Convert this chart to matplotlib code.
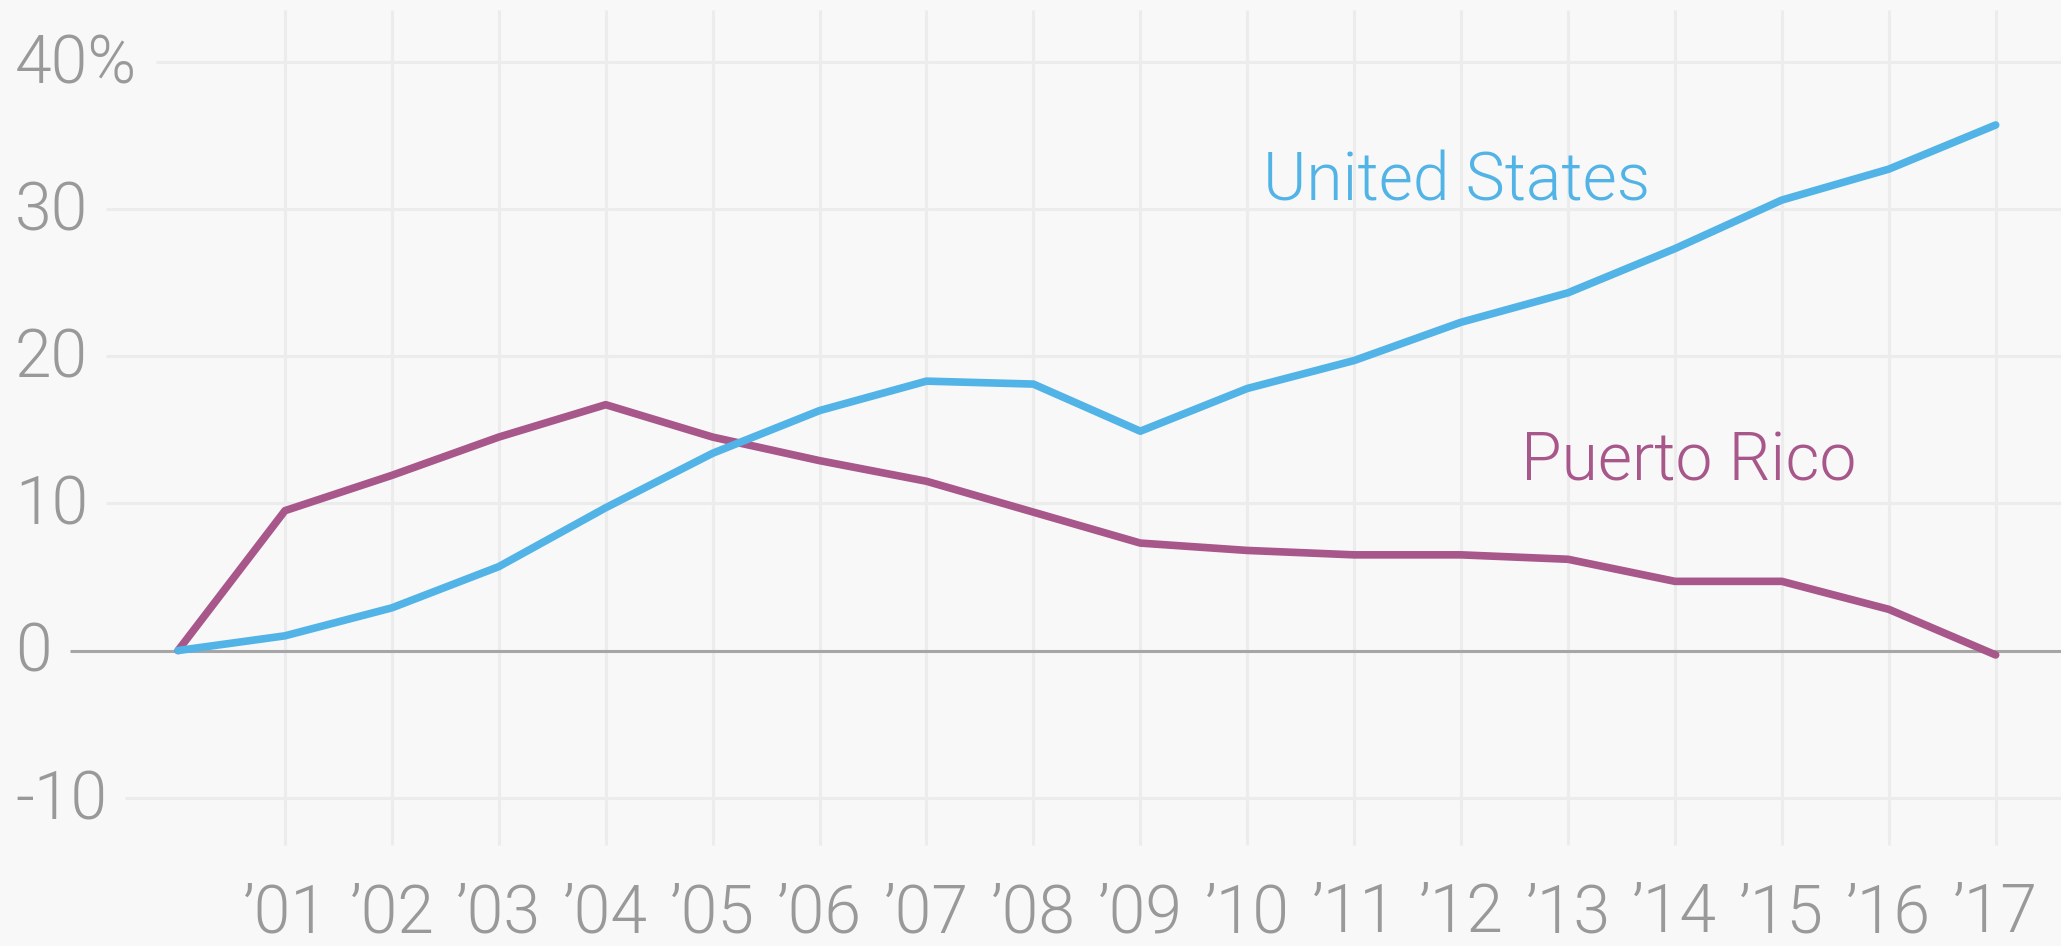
import numpy as np
import matplotlib
matplotlib.use("Agg")
import matplotlib.pyplot as plt
import matplotlib.transforms as mtransforms
from matplotlib.textpath import TextPath
from matplotlib.font_manager import FontProperties

plt.rcParams['font.family'] = 'Roboto'

# growth since 2000, percent
years = list(range(2000, 2018))
us = [0, 1.0, 2.9, 5.7, 9.7, 13.4, 16.3, 18.3, 18.1, 14.9, 17.8, 19.7,
      22.3, 24.3, 27.3, 30.6, 32.7, 35.7]
pr = [0, 9.5, 11.9, 14.5, 16.7, 14.5, 12.9, 11.5, 9.4, 7.3, 6.8, 6.5,
      6.5, 6.2, 4.7, 4.7, 2.8, -0.3]
yticks = [40, 30, 20, 10, 0, -10]
ytick_labels = ['40%', '30', '20', '10', '0', '-10']
xticks = years[1:]
xtick_labels = ['\u2019%02d' % (y % 100) for y in xticks]

bg = '#f8f8f8'
grid_c = '#ececec'
text_c = '#999999'
us_c = '#52b3e6'
pr_c = '#a8578a'
fs = 47.5
fw = 300
W = 2061

fig = plt.figure(figsize=(20.61, 9.46), dpi=100, facecolor=bg)
ax = fig.add_axes([0, 0, 1, 1], facecolor=bg)
x0, x1 = 1998.335, 2017.611
y0, y1 = -20.07, 44.19
ax.set_xlim(x0, x1)
ax.set_ylim(y0, y1)
ax.axis('off')

# vertical grid
ax.vlines(xticks, -13.2, 43.5, color=grid_c, lw=2.2, zorder=1)

# y labels, then horizontal grid starting after each label
ytrans = mtransforms.blended_transform_factory(ax.transAxes, ax.transData)
prop = FontProperties(family='Roboto', weight=fw, size=fs)
px_per_x = W / (x1 - x0)
for v, s in zip(yticks, ytick_labels):
    ax.text(15 / W, v - 1.45, s, transform=ytrans, ha='left',
            va='baseline', fontsize=fs, color=text_c, fontweight=fw)
    wpx = TextPath((0, 0), s, prop=prop).get_extents().x1 * 100 / 72
    xs = x0 + (15 + wpx + 22) / px_per_x
    if v == 0:
        ax.hlines(v, xs, x1, color='#a6a6a6', lw=2.2, zorder=2)
    else:
        ax.hlines(v, xs, x1, color=grid_c, lw=2.2, zorder=1)

for x, s in zip(xticks, xtick_labels):
    ax.text(x, y0, s, ha='center', va='bottom', fontsize=fs,
            color=text_c, fontweight=fw)

ax.plot(years, pr, color=pr_c, lw=5.5, solid_capstyle='round',
        solid_joinstyle='round', zorder=3)
ax.plot(years, us, color=us_c, lw=5.5, solid_capstyle='round',
        solid_joinstyle='round', zorder=4)

ax.text(2010.15, 30.6, 'United States', color=us_c, fontsize=fs,
        ha='left', va='baseline', fontweight=fw)
ax.text(2012.56, 11.58, 'Puerto Rico', color=pr_c, fontsize=fs,
        ha='left', va='baseline', fontweight=fw)

fig.savefig('out.png', dpi=100, facecolor=bg)
